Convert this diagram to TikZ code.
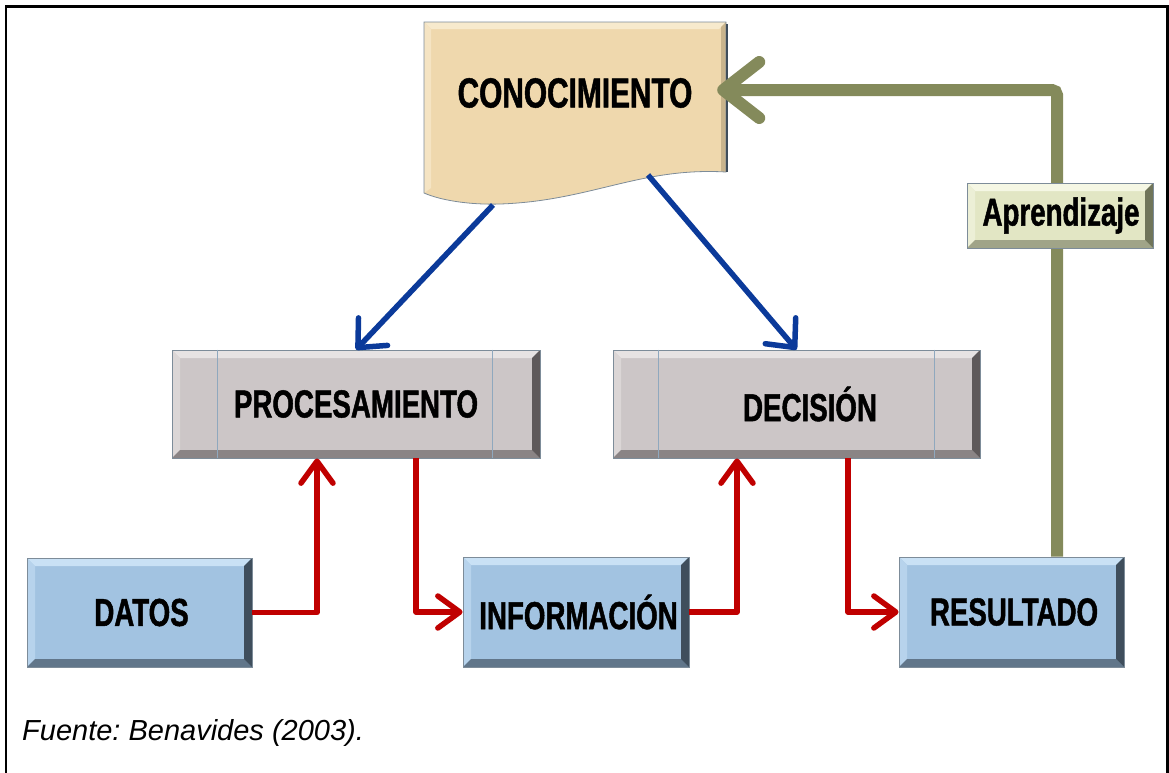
\documentclass[tikz,border=0pt]{standalone}
\usepackage{fontspec}
\usetikzlibrary{arrows.meta,calc}
\newfontfamily\nb[FakeStretch=0.71,FakeBold=1.2]{Liberation Sans}
\newfontfamily\arfont{Liberation Sans}
\definecolor{blueF}{HTML}{A2C3E1}
\definecolor{blueL}{HTML}{C9E1F5}
\definecolor{blueD}{HTML}{61768A}
\definecolor{blueDD}{HTML}{3F4E5C}
\definecolor{grayF}{HTML}{CCC6C7}
\definecolor{grayL}{HTML}{E7E3E3}
\definecolor{grayD}{HTML}{8A8485}
\definecolor{grayDD}{HTML}{5E595A}
\definecolor{greenF}{HTML}{E2E6C4}
\definecolor{greenL}{HTML}{F5F7E4}
\definecolor{greenD}{HTML}{A0A488}
\definecolor{greenDD}{HTML}{70755A}
\definecolor{tanF}{HTML}{EFD8AD}
\definecolor{tanL}{HTML}{F7EACD}
\definecolor{tanD}{HTML}{C9B48C}
\definecolor{boxedge}{HTML}{7D8C99}
\definecolor{sepline}{HTML}{8FA8BE}
\definecolor{arrblue}{HTML}{0B3A9A}
\definecolor{arrred}{HTML}{C00000}
\definecolor{arrgreen}{HTML}{848A5B}
\def\bv{8pt}
\tikzset{
  bevel/.style n args={4}{fill=#1, path picture={
    \coordinate (bnw) at (path picture bounding box.north west);
    \coordinate (bne) at (path picture bounding box.north east);
    \coordinate (bsw) at (path picture bounding box.south west);
    \coordinate (bse) at (path picture bounding box.south east);
    \fill[#2] (bnw) -- (bne) -- ($(bne)+(-\bv,-\bv)$) -- ($(bnw)+(\bv,-\bv)$) -- cycle;
    \fill[#2!55!#1] (bnw) -- ($(bnw)+(\bv,-\bv)$) -- ($(bsw)+(\bv,\bv)$) -- (bsw) -- cycle;
    \fill[#3] (bsw) -- (bse) -- ($(bse)+(-\bv,\bv)$) -- ($(bsw)+(\bv,\bv)$) -- cycle;
    \fill[#4] (bne) -- (bse) -- ($(bse)+(-\bv,\bv)$) -- ($(bne)+(-\bv,-\bv)$) -- cycle;
  }},
  box/.style={draw=boxedge, line width=0.8pt, inner sep=0pt, text=black,
    font=\nb\bfseries\fontsize{39}{40}\selectfont},
  bluebox/.style={box, bevel={blueF}{blueL}{blueD}{blueDD}},
  graybox/.style={box, bevel={grayF}{grayL}{grayD}{grayDD}},
  greenbox/.style={box, bevel={greenF}{greenL}{greenD}{greenDD}, font=\nb\bfseries\fontsize{39}{40}\selectfont},
  sep/.style={draw=sepline, line width=1.4pt},
  bluearr/.style={draw=arrblue, line width=5.5pt, -{Straight Barb[length=22pt,width=40pt,round]}},
  redarr/.style={draw=arrred, line width=5.5pt, line join=round, -{Straight Barb[length=22pt,width=32pt,round]}},
  greenarr/.style={draw=arrgreen, line width=12pt, rounded corners=5pt, -{Straight Barb[length=36pt,width=56pt,round]}},
  frame/.style={draw=black, line width=2.2pt},
}
\begin{document}
\begin{tikzpicture}[x=1pt,y=-1pt]
\useasboundingbox (0,0) rectangle (1169,772);
% outer frame
\draw[frame] (6,780) -- (6,6.5) -- (1167.5,6.5) -- (1167.5,780);

% CONOCIMIENTO document shape
\fill[tanF] (424,22) -- (726,22) -- (726,172)
  .. controls (640,167) and (590,201) .. (500,204)
  .. controls (468,205) and (440,200) .. (424,193) -- cycle;
\fill[tanL] (424,22) -- (726,22) -- (719,29) -- (431,29) -- cycle;
\fill[tanL!70!tanF] (424,22) -- (431,29) -- (431,188) -- (424,193) -- cycle;
\fill[tanD] (726,22) -- (726,172) -- (721,171) -- (721,27) -- cycle;
\draw[boxedge, line width=0.8pt] (424,22) -- (726,22) -- (726,172)
  .. controls (640,167) and (590,201) .. (500,204)
  .. controls (468,205) and (440,200) .. (424,193) -- cycle;
\draw[blueDD, line width=1.6pt] (727,24) -- (727,172);
\node[inner sep=0pt, minimum width=302, minimum height=150,
  font=\nb\bfseries\fontsize{42}{44}\selectfont] (con) at (575,93) {CONOCIMIENTO};

% boxes
\node[graybox, minimum width=368, minimum height=108] (proc) at (356,404) {PROCESAMIENTO};
\node[graybox, minimum width=367, minimum height=108] (dec) at (796.5,404) {\hspace*{27pt}DECISIÓN};
\draw[sep] ([xshift=46pt]proc.north west) -- ([xshift=46pt]proc.south west);
\draw[sep] ([xshift=-48pt]proc.north east) -- ([xshift=-48pt]proc.south east);
\draw[sep] ([xshift=46pt]dec.north west) -- ([xshift=46pt]dec.south west);
\draw[sep] ([xshift=-46pt]dec.north east) -- ([xshift=-46pt]dec.south east);

\node[bluebox, minimum width=225, minimum height=109] (datos) at (139.5,612.5) {\hspace*{4pt}DATOS};
\node[bluebox, minimum width=226, minimum height=110] (info) at (576,612) {\hspace*{5pt}INFORMACIÓN};
\node[bluebox, minimum width=225, minimum height=110] (res) at (1011.5,612) {\hspace*{5pt}RESULTADO};

% blue arrows
\coordinate (c1) at (493,205);
\coordinate (c2) at (648,175);
\draw[bluearr] (c1) -- (proc.north);
\draw[bluearr] (c2) -- (dec.north);

% red arrows
\draw[redarr] (datos.east) -| ([xshift=-39pt]proc.south);
\draw[redarr] ([xshift=60pt]proc.south) |- (info.west);
\draw[redarr] (info.east) -| ([xshift=-59.5pt]dec.south);
\draw[redarr] ([xshift=51.5pt]dec.south) |- (res.west);

% green feedback arrow
\draw[greenarr, shorten >=-9pt] ([xshift=45.5pt]res.north) |- ([yshift=3pt]con.east);
\node[greenbox, minimum width=186, minimum height=65] (apr) at (1060,215.5) {\hspace*{2pt}Aprendizaje};

% source
\node[anchor=base west, inner sep=0pt, font=\arfont\itshape\fontsize{29}{31}\selectfont] (src) at (22,740) {\frenchspacing Fuente: Benavides (2003).};
\end{tikzpicture}
\end{document}
